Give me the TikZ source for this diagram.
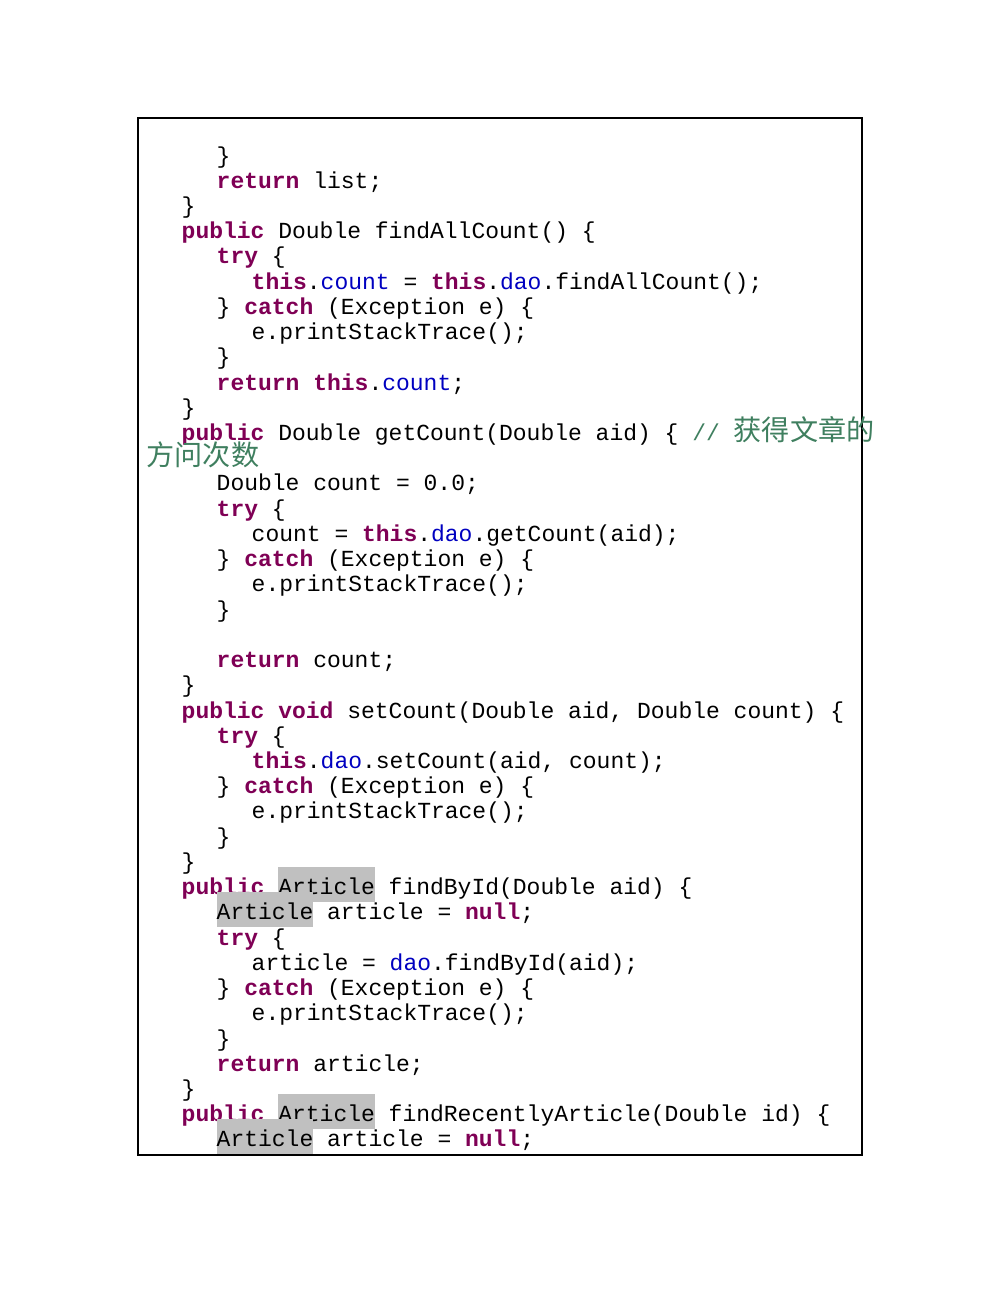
\documentclass[tikz,border=0pt]{standalone}
\usepackage{fontspec}
\setmonofont{Liberation Mono}
\newfontfamily\cjk{Noto Sans CJK SC}
\definecolor{kw}{HTML}{7F0055}
\definecolor{fld}{HTML}{0000C0}
\definecolor{cmt}{HTML}{3F7F5F}
\definecolor{hlg}{HTML}{C0C0C0}
\newcommand{\kw}[1]{\textcolor{kw}{\textbf{#1}}}
\newcommand{\fl}[1]{\textcolor{fld}{#1}}
\newcommand{\hlA}{{\setlength\fboxsep{0pt}\colorbox{hlg}{\rule[-0.6ex]{0pt}{2.9ex}Article}}}
\begin{document}
\begin{tikzpicture}[x=0.01cm,y=-0.01cm,
  ln/.style={anchor=base west,inner sep=0pt,font=\fontsize{6.54pt}{7pt}\ttfamily}]
\useasboundingbox (0,0) rectangle (1000,1294);
\draw[line width=0.8pt] (138,118) rectangle (862,1155);
\def\L#1#2#3{\node[ln] (r#1) at (#2,{163+25.23*#1}) {#3};}
\L{0}{216}{\}}
\L{1}{216}{\kw{return} list;}
\L{2}{181}{\}}
\L{3}{181}{\kw{public} Double findAllCount() \{}
\L{4}{216}{\kw{try} \{}
\L{5}{251}{\kw{this}.\fl{count} = \kw{this}.\fl{dao}.findAllCount();}
\L{6}{216}{\} \kw{catch} (Exception e) \{}
\L{7}{251}{e.printStackTrace();}
\L{8}{216}{\}}
\L{9}{216}{\kw{return} \kw{this}.\fl{count};}
\L{10}{181}{\}}
\L{11}{181}{\kw{public} Double getCount(Double aid) \{ \textcolor{cmt}{// {\cjk\fontsize{8pt}{9pt}\selectfont 获得文章的}}}
\L{12}{146}{\textcolor{cmt}{\cjk\fontsize{8pt}{9pt}\selectfont 方问次数}}
\L{13}{216}{Double count = 0.0;}
\L{14}{216}{\kw{try} \{}
\L{15}{251}{count = \kw{this}.\fl{dao}.getCount(aid);}
\L{16}{216}{\} \kw{catch} (Exception e) \{}
\L{17}{251}{e.printStackTrace();}
\L{18}{216}{\}}
\L{20}{216}{\kw{return} count;}
\L{21}{181}{\}}
\L{22}{181}{\kw{public} \kw{void} setCount(Double aid, Double count) \{}
\L{23}{216}{\kw{try} \{}
\L{24}{251}{\kw{this}.\fl{dao}.setCount(aid, count);}
\L{25}{216}{\} \kw{catch} (Exception e) \{}
\L{26}{251}{e.printStackTrace();}
\L{27}{216}{\}}
\L{28}{181}{\}}
\L{29}{181}{\kw{public} \hlA{} findById(Double aid) \{}
\L{30}{216}{\hlA{} article = \kw{null};}
\L{31}{216}{\kw{try} \{}
\L{32}{251}{article = \fl{dao}.findById(aid);}
\L{33}{216}{\} \kw{catch} (Exception e) \{}
\L{34}{251}{e.printStackTrace();}
\L{35}{216}{\}}
\L{36}{216}{\kw{return} article;}
\L{37}{181}{\}}
\L{38}{181}{\kw{public} \hlA{} findRecentlyArticle(Double id) \{}
\L{39}{216}{\hlA{} article = \kw{null};}
\end{tikzpicture}
\end{document}
